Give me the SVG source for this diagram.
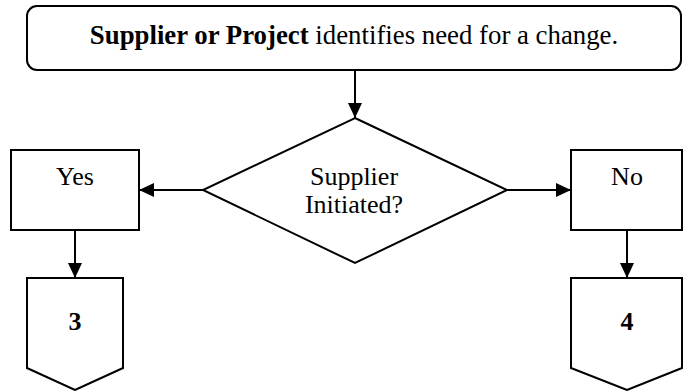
<svg xmlns="http://www.w3.org/2000/svg" width="683" height="391" viewBox="0 0 683 391">
  <style>
    .shape { fill: #fff; stroke: #000; stroke-width: 2; }
    .link { fill: none; stroke: #000; stroke-width: 2; }
    .lbl { font-family: "Liberation Serif", "Times New Roman", serif; font-size: 26px; fill: #000; text-anchor: middle; }
    .title { font-size: 26.8px; }
    .b { font-weight: bold; }
  </style>
  <defs>
    <marker id="arrow" viewBox="0 0 15 14" refX="15" refY="7" markerWidth="15" markerHeight="14" markerUnits="userSpaceOnUse" orient="auto">
      <path d="M0,0 L15,7 L0,14 Z" fill="#000"/>
    </marker>
  </defs>

  <g id="start">
    <rect class="shape" x="27" y="6" width="654" height="64" rx="10" ry="10"/>
    <text class="lbl title" x="354" y="44"><tspan class="b">Supplier or Project</tspan> identifies need for a change.</text>
  </g>

  <g id="decision">
    <polygon class="shape" points="355,118 507,190 355,263 203,190"/>
    <text class="lbl" x="354" y="185">Supplier</text>
    <text class="lbl" x="354" y="213">Initiated?</text>
  </g>

  <g id="yes">
    <rect class="shape" x="11" y="150" width="128" height="80"/>
    <text class="lbl" x="75" y="185">Yes</text>
  </g>

  <g id="no">
    <rect class="shape" x="571" y="150" width="111" height="80"/>
    <text class="lbl" x="627" y="185">No</text>
  </g>

  <g id="ref3">
    <polygon class="shape" points="27,278 123,278 123,368 75,390 27,368"/>
    <text class="lbl b" x="75" y="330">3</text>
  </g>

  <g id="ref4">
    <polygon class="shape" points="571,278 682,278 682,368 627,390 571,368"/>
    <text class="lbl b" x="627" y="330">4</text>
  </g>

  <g id="connectors">
    <line class="link" x1="355" y1="70" x2="355" y2="118" marker-end="url(#arrow)"/>
    <line class="link" x1="203" y1="190" x2="139" y2="190" marker-end="url(#arrow)"/>
    <line class="link" x1="507" y1="190" x2="571" y2="190" marker-end="url(#arrow)"/>
    <line class="link" x1="75" y1="230" x2="75" y2="278" marker-end="url(#arrow)"/>
    <line class="link" x1="627" y1="230" x2="627" y2="278" marker-end="url(#arrow)"/>
  </g>
</svg>
